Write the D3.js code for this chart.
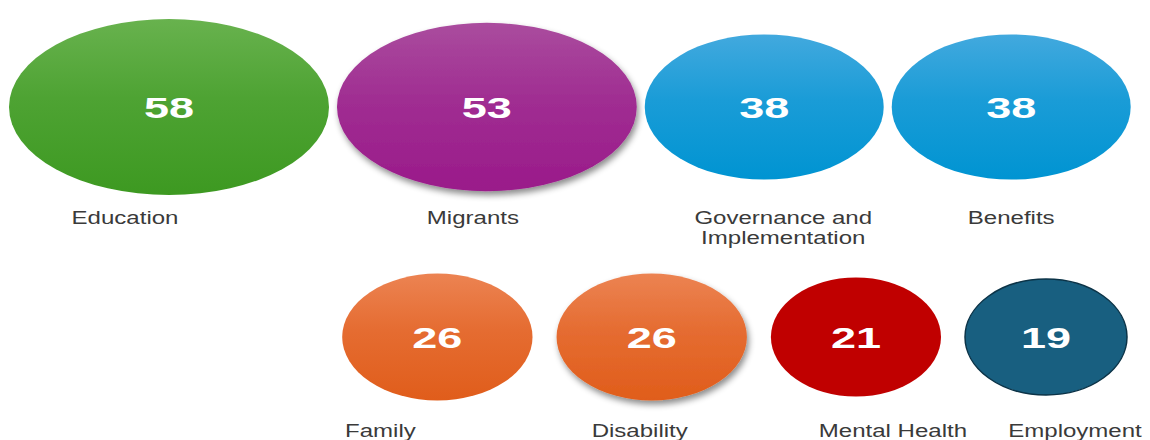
<!DOCTYPE html>
<html>
<head>
<meta charset="utf-8">
<script src="https://cdn.jsdelivr.net/npm/d3@7"></script>
<style>
  html, body { margin: 0; padding: 0; background: #ffffff; }
  svg { display: block; }
</style>
</head>
<body>
<svg id="chart" width="1150" height="440"></svg>
<script>
// ---- data ----
const categories = ["Education", "Migrants", "Governance and Implementation", "Benefits",
                    "Family", "Disability", "Mental Health", "Employment"];
const counts = [58, 53, 38, 38, 26, 26, 21, 19];

// ---- styles / layout (not data) ----
const fillTop    = ["#68b24e", "#aa4c9e", "#42a9de", "#ec8352", "#ec8352", "#c00000", "#185f80"];
const fillBottom = ["#3d9921", "#9a1a8a", "#0094d2", "#e05d1b", "#e05d1b", "#c00000", "#185f80"];
const colorIndex = [0, 1, 2, 2, 3, 3, 5, 6];
const hasShadow  = [false, true, false, false, false, true, false, false];
const hasOutline = [false, false, false, false, false, false, false, true];
const labelNudge = [-44, -14, 19, 0, -57, -12, 37, 29];
const perRow = 4;

const svg = d3.select("#chart");
const W = 1150;

const data = categories.map((c, i) => ({ name: c, value: counts[i], i, row: i < perRow ? 0 : 1 }));

// Size scales: ellipse half-width / half-height from value
const ext = d3.extent(counts);
const rx = d3.scaleLinear().domain(ext).range([81, 160]);
const ry = d3.scaleLinear().domain(ext).range([58, 88]);

// Row scale for vertical placement
const rowY = d3.scaleOrdinal().domain([0, 1]).range([107, 337]);
const rowLabelY = d3.scaleOrdinal().domain([0, 1]).range([224, 437]);

// Horizontal packing: top row from left, bottom row right-aligned
const gapTop = 8, gapBottom = 24, leftStart = 9, rightEnd = 1127;
let x = leftStart;
data.filter(d => d.row === 0).forEach(d => {
  d.cx = x + rx(d.value);
  x += 2 * rx(d.value) + gapTop;
});
x = rightEnd;
data.filter(d => d.row === 1).reverse().forEach(d => {
  d.cx = x - rx(d.value);
  x -= 2 * rx(d.value) + gapBottom;
});

// defs: gradients and shadow
const defs = svg.append("defs");
fillTop.forEach((c, k) => {
  const g = defs.append("linearGradient").attr("id", "grad" + k)
    .attr("x1", 0).attr("y1", 0).attr("x2", 0).attr("y2", 1);
  g.append("stop").attr("offset", "0%").attr("stop-color", c);
  g.append("stop").attr("offset", "45%").attr("stop-color", d3.interpolateRgb(c, fillBottom[k])(0.6));
  g.append("stop").attr("offset", "100%").attr("stop-color", fillBottom[k]);
});
const f = defs.append("filter").attr("id", "shadow")
  .attr("x", "-10%").attr("y", "-10%").attr("width", "125%").attr("height", "130%");
f.append("feDropShadow").attr("dx", 2).attr("dy", 4).attr("stdDeviation", 3)
  .attr("flood-color", "#000").attr("flood-opacity", 0.45);

svg.append("rect").attr("width", W).attr("height", 440).attr("fill", "#ffffff");

const nodes = svg.selectAll("g.node").data(data).join("g").attr("class", "node");

nodes.append("ellipse")
  .attr("cx", d => d.cx)
  .attr("cy", d => rowY(d.row))
  .attr("rx", d => rx(d.value))
  .attr("ry", d => ry(d.value))
  .attr("fill", d => "url(#grad" + colorIndex[d.i] + ")")
  .attr("stroke", d => hasOutline[d.i] ? "#0b3347" : "none")
  .attr("stroke-width", d => hasOutline[d.i] ? 1.5 : 0)
  .attr("filter", d => hasShadow[d.i] ? "url(#shadow)" : null);

// value labels
nodes.append("g")
  .attr("transform", d => `translate(${d.cx},${rowY(d.row)}) scale(1.5,1)`)
  .append("text")
  .attr("text-anchor", "middle")
  .attr("y", 11)
  .attr("font-family", "'Liberation Sans', Arial, sans-serif")
  .attr("font-weight", "bold")
  .attr("font-size", 30)
  .attr("fill", "#ffffff")
  .text(d => d.value);

// category labels with wrapping
const maxW = 140;
const labels = nodes.append("g")
  .attr("transform", d => `translate(${d.cx + labelNudge[d.i]},${rowLabelY(d.row)}) scale(1.3,1)`)
  .append("text")
  .attr("text-anchor", "middle")
  .attr("font-family", "'Liberation Sans', Arial, sans-serif")
  .attr("font-size", 18.5)
  .attr("fill", "#3a3a3a");

labels.each(function(d) {
  const t = d3.select(this);
  const words = d.name.split(" ");
  let line = [], lineNo = 0;
  let tspan = t.append("tspan").attr("x", 0).attr("dy", 0);
  words.forEach(w => {
    line.push(w);
    tspan.text(line.join(" "));
    if (tspan.node().getComputedTextLength() > maxW && line.length > 1) {
      line.pop();
      tspan.text(line.join(" "));
      line = [w];
      lineNo++;
      tspan = t.append("tspan").attr("x", 0).attr("dy", 20).text(w);
    }
  });
});
</script>
</body>
</html>
